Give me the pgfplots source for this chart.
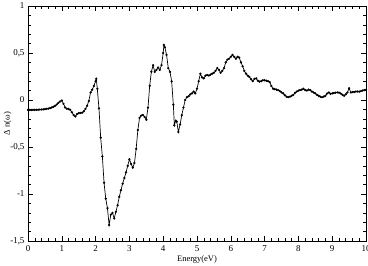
\documentclass[border=0pt]{standalone}
\usepackage{fontspec}
\setmainfont{Liberation Serif}
\usepackage{pgfplots}
\pgfplotsset{compat=1.18}
\begin{document}
\begin{tikzpicture}
\useasboundingbox (-28bp,-25bp) rectangle (340bp,241bp);
\begin{axis}[
  at={(0,0)}, anchor=south west,
  scale only axis, width=338bp, height=235bp,
  xmin=0, xmax=10, ymin=-1.5, ymax=1,
  xtick={0,1,...,10}, minor x tick num=4,
  ytick={-1.5,-1,-0.5,0,0.5,1}, minor y tick num=4,
  yticklabels={{-1,5},{-1},{-0,5},{0},{0,5},{1}},
  xticklabels={0,1,2,3,4,5,6,7,8,9,10},
  tick align=inside, tick pos=both,
  major tick length=5bp, minor tick length=3bp,
  tick style={black, line width=0.5pt},
  axis line style={line width=0.6pt},
  tick label style={font=\fontsize{9}{10}\selectfont},
  xlabel={Energy(eV)}, ylabel={Δ n(ω)},
  label style={font=\fontsize{8.5}{9}\selectfont},
  xlabel style={yshift=3bp},
  ylabel style={yshift=-8bp},
  xticklabel style={yshift=-1bp},
]
\addplot[black, line width=0.7pt, mark=*, mark size=0.75pt] coordinates {
(0.00,-0.106)(0.05,-0.106)(0.10,-0.106)(0.15,-0.105)(0.20,-0.105)(0.25,-0.104)
(0.30,-0.103)(0.35,-0.102)(0.40,-0.101)(0.45,-0.099)(0.50,-0.097)(0.55,-0.094)
(0.60,-0.091)(0.65,-0.086)(0.70,-0.080)(0.75,-0.072)(0.80,-0.062)(0.85,-0.048)
(0.90,-0.030)(0.95,-0.015)(1.00,-0.005)(1.05,-0.040)(1.10,-0.080)(1.15,-0.092)
(1.20,-0.095)(1.25,-0.105)(1.30,-0.130)(1.35,-0.160)(1.40,-0.175)(1.45,-0.150)
(1.50,-0.140)(1.55,-0.138)(1.60,-0.135)(1.65,-0.120)(1.70,-0.095)(1.75,-0.060)
(1.80,-0.010)(1.85,0.080)(1.90,0.110)(1.95,0.150)(2.00,0.200)(2.02,0.225)
(2.05,0.120)(2.10,-0.090)(2.15,-0.400)(2.20,-0.600)(2.25,-0.880)(2.30,-1.050)
(2.35,-1.150)(2.40,-1.330)(2.45,-1.220)(2.50,-1.200)(2.55,-1.260)(2.60,-1.190)
(2.65,-1.120)(2.70,-1.030)(2.75,-0.960)(2.80,-0.890)(2.85,-0.830)(2.90,-0.770)
(2.95,-0.700)(3.00,-0.630)(3.05,-0.680)(3.10,-0.720)(3.15,-0.670)(3.20,-0.520)
(3.25,-0.320)(3.30,-0.190)(3.35,-0.165)(3.40,-0.160)(3.45,-0.180)(3.50,-0.210)
(3.55,-0.080)(3.60,0.150)(3.65,0.300)(3.70,0.370)(3.75,0.300)(3.80,0.320)
(3.85,0.345)(3.90,0.320)(3.95,0.370)(4.00,0.500)(4.02,0.585)(4.05,0.560)
(4.10,0.480)(4.15,0.340)(4.20,0.300)(4.25,0.200)(4.30,-0.050)(4.33,-0.270)
(4.37,-0.220)(4.40,-0.230)(4.45,-0.340)(4.50,-0.260)(4.55,-0.160)(4.60,-0.080)
(4.65,0.000)(4.70,0.030)(4.75,0.040)(4.80,0.060)(4.85,0.070)(4.90,0.090)
(4.95,0.070)(5.00,0.120)(5.05,0.200)(5.10,0.280)(5.15,0.240)(5.20,0.230)
(5.25,0.260)(5.30,0.265)(5.35,0.260)(5.40,0.270)(5.45,0.280)(5.50,0.290)
(5.55,0.310)(5.60,0.340)(5.65,0.320)(5.70,0.290)(5.75,0.310)(5.80,0.340)
(5.85,0.400)(5.90,0.430)(5.95,0.440)(6.00,0.460)(6.05,0.480)(6.10,0.460)
(6.15,0.440)(6.20,0.460)(6.25,0.450)(6.30,0.400)(6.35,0.360)(6.40,0.310)
(6.45,0.280)(6.50,0.260)(6.55,0.245)(6.60,0.220)(6.65,0.200)(6.70,0.225)
(6.75,0.230)(6.80,0.205)(6.85,0.195)(6.90,0.200)(6.95,0.210)(7.00,0.210)
(7.05,0.205)(7.10,0.200)(7.15,0.190)(7.20,0.150)(7.25,0.120)(7.30,0.115)
(7.35,0.110)(7.40,0.105)(7.45,0.095)(7.50,0.080)(7.55,0.070)(7.60,0.050)
(7.65,0.035)(7.70,0.030)(7.75,0.035)(7.80,0.045)(7.85,0.055)(7.90,0.075)
(7.95,0.090)(8.00,0.100)(8.05,0.105)(8.10,0.110)(8.15,0.120)(8.20,0.105)
(8.25,0.100)(8.30,0.110)(8.35,0.105)(8.40,0.090)(8.45,0.080)(8.50,0.070)
(8.55,0.055)(8.60,0.045)(8.65,0.035)(8.70,0.030)(8.75,0.035)(8.80,0.045)
(8.85,0.070)(8.90,0.080)(8.95,0.065)(9.00,0.070)(9.05,0.075)(9.10,0.078)
(9.15,0.080)(9.20,0.078)(9.25,0.070)(9.30,0.055)(9.35,0.045)(9.40,0.060)
(9.45,0.080)(9.50,0.125)(9.55,0.080)(9.60,0.085)(9.65,0.085)(9.70,0.090)
(9.75,0.090)(9.80,0.090)(9.85,0.095)(9.90,0.100)(9.95,0.105)(10.00,0.108)
};
\end{axis}
\end{tikzpicture}
\end{document}
